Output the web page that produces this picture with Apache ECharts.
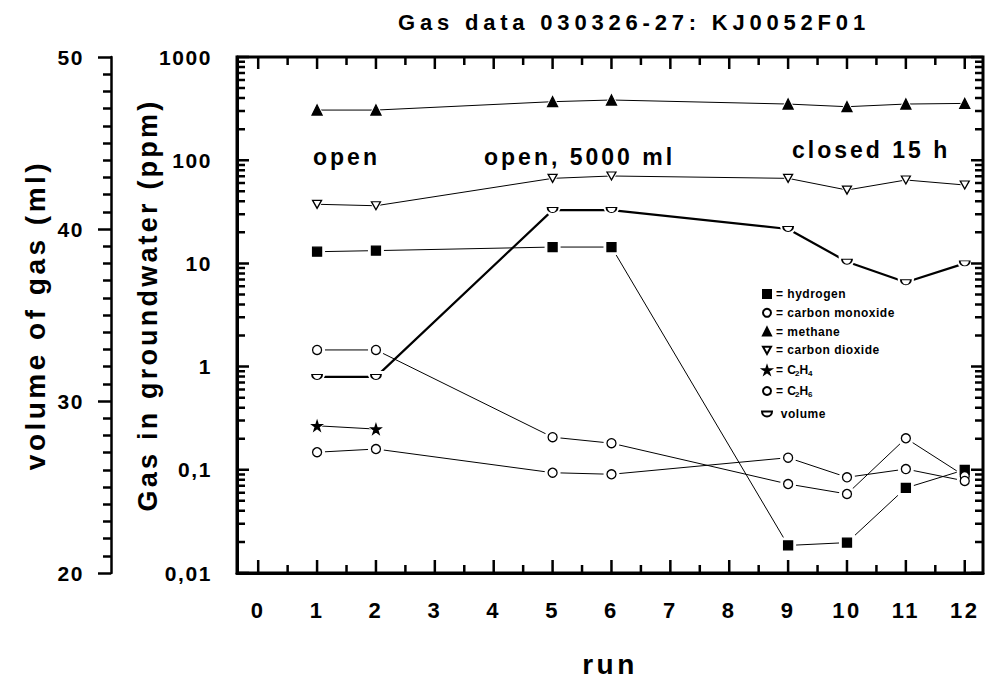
<!DOCTYPE html>
<html>
<head>
<meta charset="utf-8">
<script src="https://cdn.jsdelivr.net/npm/echarts@6/dist/echarts.min.js"></script>
<style>
  html, body { margin: 0; padding: 0; background: #ffffff; }
  #chart { width: 986px; height: 686px; }
</style>
</head>
<body>
<div id="chart"></div>
<script>
// Sampling runs and measured concentrations (ppm) per gas
const runs = [1, 2, 5, 6, 9, 10, 11, 12];
const hydrogen       = [12.98, 13.3, 14.4, 14.4, 0.0185, 0.0197, 0.0667, 0.1];
const carbonMonoxide = [1.45, 1.45, 0.207, 0.181, 0.0728, 0.0583, 0.202, 0.087];
const methane        = [306, 306, 369, 383, 350, 330, 350, 355];
const carbonDioxide  = [37.4, 36.2, 66.7, 70.3, 66.7, 51.4, 64.3, 57.5];
const ethene         = [0.267, 0.248, null, null, null, null, null, null];
const ethane         = [0.148, 0.159, 0.0937, 0.0905, 0.131, 0.0846, 0.1017, 0.078];
// Volume of gas extracted (ml), plotted on the outer left axis
const volume         = [31.4, 31.4, 41.1, 41.1, 40.0, 38.1, 36.9, 38.0];

// Axis ranges, ticks and labels
const runMin = -0.36;
const runMax = 12.31;
const runTicks = [0, 1, 2, 3, 4, 5, 6, 7, 8, 9, 10, 11, 12];
const runHalfTicks = [0.5, 1.5, 2.5, 3.5, 4.5, 5.5, 6.5, 7.5, 8.5, 9.5, 10.5, 11.5];
const ppmTicks = [0.01, 0.1, 1, 10, 100, 1000];
const ppmTickText = ['0,01', '0,1', '1', '10', '100', '1000'];
const ppmMinorTicks = [];
[0.01, 0.1, 1, 10, 100].forEach(function (decade) {
  [2, 3, 4, 5, 6, 7, 8, 9].forEach(function (m) {
    ppmMinorTicks.push(parseFloat((m * decade).toPrecision(6)));
  });
});
const volumeTicks = [20, 30, 40, 50];

// Text annotations
const titleText = 'Gas data 030326-27: KJ0052F01';
const notes = [
  { text: 'open', x: 313, y: 157 },
  { text: 'open, 5000 ml', x: 484, y: 157 },
  { text: 'closed 15 h', x: 792, y: 150 }
];

const FONT = 'Liberation Sans, Arial, Helvetica, sans-serif';
const BLACK = '#000000';

// Plot area (pixels) and the data span of one pixel along each axis
const GRID = { left: 237, right: 3, top: 57, bottom: 113 };
const plotW = 986 - GRID.left - GRID.right;
const plotH = 686 - GRID.top - GRID.bottom;
const runPerPx = (runMax - runMin) / plotW;
const decadesPerPx = Math.log10(ppmTicks[ppmTicks.length - 1] / ppmTicks[0]) / plotH;

const STAR = 'path://M5,0 L6.2,3.6 L10,3.6 L6.9,5.8 L8.1,9.5 L5,7.3 L1.9,9.5 L3.1,5.8 L0,3.6 L3.8,3.6 Z';
const DOWN_TRI = 'path://M0,0 L10,0 L5,9 Z';
const HALF_DISC = 'path://M0,0 L10,0 A5,5 0 0 1 0,0 Z';

const gases = [
  { name: 'hydrogen', values: hydrogen, symbol: 'rect', size: 9, fill: BLACK },
  { name: 'carbon monoxide', values: carbonMonoxide, symbol: 'circle', size: 9, fill: '#ffffff' },
  { name: 'methane', values: methane, symbol: 'triangle', size: 10, fill: BLACK },
  { name: 'carbon dioxide', values: carbonDioxide, symbol: DOWN_TRI, size: [9, 8], fill: '#ffffff' },
  { name: 'C2H4', values: ethene, symbol: STAR, size: 10, fill: BLACK },
  { name: 'C2H6', values: ethane, symbol: 'circle', size: 9, fill: '#ffffff' }
];

function pairs(values) {
  return runs.map(function (r, i) { return [r, values[i]]; });
}
function grow(size, d) {
  return Array.isArray(size) ? [size[0] + d, size[1] + d] : size + d;
}

// each quantity: a thin line, a white halo that opens a gap round each marker, then the marker
function buildSeries(item, axisIndex, lineWidth) {
  const data = pairs(item.values);
  return [
    {
      name: item.name + ' line', type: 'line', yAxisIndex: axisIndex, data: data,
      showSymbol: false, symbol: 'none', connectNulls: false, silent: true, z: 2,
      lineStyle: { color: BLACK, width: lineWidth }
    },
    {
      name: item.name + ' halo', type: 'scatter', yAxisIndex: axisIndex, data: data,
      symbol: item.symbol, symbolSize: grow(item.size, 7), silent: true, z: 3,
      itemStyle: { color: '#ffffff', borderWidth: 0, opacity: 1 }
    },
    {
      name: item.name, type: 'scatter', yAxisIndex: axisIndex, data: data,
      symbol: item.symbol, symbolSize: item.size, silent: true, z: 4,
      itemStyle: { color: item.fill, borderColor: BLACK, borderWidth: 1.3, opacity: 1 }
    }
  ];
}

let series = [];
gases.forEach(function (g) { series = series.concat(buildSeries(g, 0, 1)); });
series = series.concat(buildSeries(
  { name: 'volume', values: volume, symbol: HALF_DISC, size: [10, 5], fill: '#ffffff' }, 1, 2.2));

// Inward tick marks on all four frame edges, as broken segments in axis units
const tickPath = [];
function segment(a, b) { tickPath.push(a, b, ['-', '-']); }
const ppmLow = ppmTicks[0];
const ppmHigh = ppmTicks[ppmTicks.length - 1];
function ppmShift(v, px) { return v * Math.pow(10, px * decadesPerPx); }
runTicks.forEach(function (v) {
  segment([v, ppmLow], [v, ppmShift(ppmLow, 13)]);
  segment([v, ppmHigh], [v, ppmShift(ppmHigh, -12)]);
});
runHalfTicks.forEach(function (v) {
  segment([v, ppmLow], [v, ppmShift(ppmLow, 8)]);
  segment([v, ppmHigh], [v, ppmShift(ppmHigh, -8)]);
});
ppmTicks.forEach(function (v) {
  segment([runMin, v], [runMin + 12 * runPerPx, v]);
  segment([runMax, v], [runMax - 12 * runPerPx, v]);
});
ppmMinorTicks.forEach(function (v) {
  segment([runMin, v], [runMin + 8 * runPerPx, v]);
  segment([runMax, v], [runMax - 8 * runPerPx, v]);
});
series.push({
  name: 'frame ticks', type: 'line', xAxisIndex: 0, yAxisIndex: 0, data: tickPath,
  showSymbol: false, symbol: 'none', connectNulls: false, silent: true, clip: false, z: 5,
  lineStyle: { color: BLACK, width: 2.5, cap: 'butt' }
});

const boldText = function (size) {
  return { fontFamily: FONT, fontWeight: 'bold', fontSize: size, color: BLACK };
};

const chart = echarts.init(document.getElementById('chart'), null, { renderer: 'svg' });

chart.setOption({
  animation: false,
  grid: {
    left: GRID.left, right: GRID.right, top: GRID.top, bottom: GRID.bottom,
    show: true, borderColor: BLACK, borderWidth: 3, backgroundColor: 'transparent'
  },
  xAxis: [{
    type: 'value', min: runMin, max: runMax, position: 'bottom',
    splitLine: { show: false },
    axisLine: { show: true, onZero: false, lineStyle: { color: BLACK, width: 3 } },
    axisTick: { show: false },
    axisLabel: Object.assign({ show: true, margin: 26, customValues: runTicks }, boldText(22)),
    name: 'run', nameLocation: 'middle', nameGap: 77, nameTextStyle: boldText(28)
  }],
  yAxis: [
    {
      type: 'log', min: ppmLow, max: ppmHigh,
      position: 'left', splitLine: { show: false },
      axisLine: { show: true, onZero: false, lineStyle: { color: BLACK, width: 3 } },
      axisTick: { show: false },
      axisLabel: Object.assign({
        show: true, margin: 25, customValues: ppmTicks,
        formatter: function (v) {
          const i = ppmTicks.findIndex(function (t) { return Math.abs(Math.log10(t) - Math.log10(v)) < 1e-6; });
          return i >= 0 ? ppmTickText[i] : '';
        }
      }, boldText(21))
    },
    {
      type: 'value', min: volumeTicks[0], max: volumeTicks[volumeTicks.length - 1], interval: 10,
      position: 'left', offset: 126,
      name: 'volume of gas (ml)', nameLocation: 'middle', nameRotate: 90, nameGap: 58,
      nameTextStyle: boldText(28),
      splitLine: { show: false },
      axisLine: { show: true, onZero: false, lineStyle: { color: BLACK, width: 2.5 } },
      axisTick: { show: true, inside: false, length: 13, lineStyle: { color: BLACK, width: 2.5 } },
      minorTick: { show: true, splitNumber: 10, length: 8, lineStyle: { color: BLACK, width: 2.5 } },
      axisLabel: Object.assign({ show: true, margin: 27 }, boldText(21))
    }
  ],
  legend: [
    {
      orient: 'vertical', left: 757, top: 283, itemWidth: 8, itemHeight: 8, itemGap: 6.8,
      selectedMode: false,
      data: gases.map(function (g) { return { name: g.name }; }),
      formatter: function (name) {
        if (name === 'C2H4') return '= C{sub|2}H{sub|4}';
        if (name === 'C2H6') return '= C{sub|2}H{sub|6}';
        return '= ' + name;
      },
      textStyle: Object.assign({
        lineHeight: 12,
        rich: { sub: { fontFamily: FONT, fontWeight: 'bold', fontSize: 8, padding: [6, 0, 0, 0], lineHeight: 8, color: BLACK } }
      }, boldText(12))
    },
    {
      orient: 'vertical', left: 756, top: 403, itemWidth: 10, itemHeight: 6, selectedMode: false,
      data: [{ name: 'volume' }],
      formatter: function (name) { return ' ' + name; },
      textStyle: boldText(12)
    }
  ],
  graphic: [
    {
      type: 'text', x: 634, y: 22, silent: true, z: 100,
      style: {
        text: titleText, align: 'center', verticalAlign: 'middle',
        fontSize: 22, fontWeight: 'bold', fontFamily: FONT, fill: BLACK
      }
    },
    {
      // name of the inner (ppm) axis, set beside its tick labels
      type: 'text', x: 148, y: 305, rotation: Math.PI / 2, silent: true, z: 100,
      style: {
        text: 'Gas in groundwater (ppm)', align: 'center', verticalAlign: 'middle',
        fontSize: 27, fontWeight: 'bold', fontFamily: FONT, fill: BLACK
      }
    }
  ].concat(notes.map(function (n) {
    return {
      type: 'text', x: n.x, y: n.y, silent: true, z: 100,
      style: {
        text: n.text, align: 'left', verticalAlign: 'middle',
        fontSize: 23, fontWeight: 'bold', fontFamily: FONT, fill: BLACK
      }
    };
  })),
  series: series
});

// Letter spacing per text size (the bold lettering is set wide)
const spacingBySize = { 8: 0, 12: 0.5, 21: 1.6, 22: 2.5, 23: 3, 27: 3.2, 28: 3.5 };
function spaceLetters() {
  document.querySelectorAll('#chart svg text').forEach(function (t) {
    let sp;
    if (t.textContent === titleText) {
      sp = 4.8;
    } else {
      const fs = Math.round(parseFloat(window.getComputedStyle(t).fontSize));
      sp = spacingBySize[fs];
    }
    if (sp != null) t.setAttribute('letter-spacing', sp + 'px');
  });
}
spaceLetters();
chart.on('finished', spaceLetters);
setTimeout(spaceLetters, 50);
</script>
</body>
</html>
